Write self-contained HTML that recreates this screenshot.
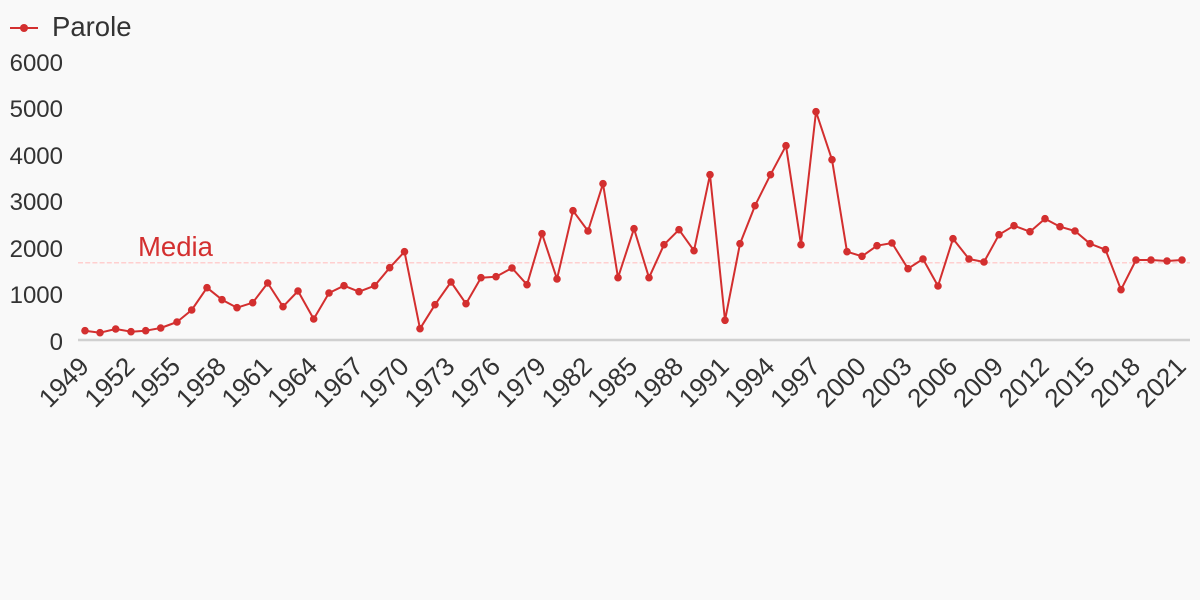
<!DOCTYPE html>
<html><head><meta charset="utf-8"><style>
html,body{margin:0;padding:0;background:#f9f9f9;}
svg{display:block;font-family:"Liberation Sans",sans-serif;}
</style></head><body>
<svg width="1200" height="600" viewBox="0 0 1200 600" xmlns="http://www.w3.org/2000/svg">
<rect width="1200" height="600" fill="#f9f9f9"/>
<!-- legend -->
<line x1="10" y1="28" x2="38" y2="28" stroke="#d32f2f" stroke-width="2"/>
<circle cx="24" cy="28" r="4" fill="#d32f2f"/>
<text x="52" y="36" font-size="27.5" fill="#333">Parole</text>
<!-- y labels -->
<g font-size="24" fill="#333" text-anchor="end">
<text x="63" y="71">6000</text>
<text x="63" y="117">5000</text>
<text x="63" y="164">4000</text>
<text x="63" y="210">3000</text>
<text x="63" y="257">2000</text>
<text x="63" y="303">1000</text>
<text x="63" y="350">0</text>
</g>
<!-- axis -->
<line x1="78" y1="340" x2="1190" y2="340" stroke="#d0d0d0" stroke-width="2.5"/>
<!-- mean -->
<line x1="78" y1="262.7" x2="1190" y2="262.7" stroke="#ffcfcf" stroke-width="1.5" stroke-dasharray="5 2.2"/>
<text x="138" y="256" font-size="27.5" fill="#d32f2f">Media</text>
<!-- series -->
<polyline fill="none" stroke="#d32f2f" stroke-width="2" stroke-linejoin="round" points="85,330.7 100,332.7 115.7,329 131,331.7 145.7,330.7 160.7,328 177,322 191.7,310 207,287.7 222,299.7 237,307.7 252.7,302.7 267.7,283 283,306.7 298,291 313.7,319 329,293 344,285.7 359,291.7 374.7,285.7 389.7,267.7 404.5,251.7 420,328.7 435,304.7 451,282 466,303.7 481,277.7 496,276.7 512,268 527,284.7 542,233.7 557,279 573,210.7 588,231 603,183.7 618,277.7 634,228.7 649,277.7 664,244.7 679,229.7 694,250.7 710,174.7 725,320.3 740,243.7 755,205.7 770.5,174.7 786,145.7 801,244.7 816,111.7 832,159.7 847,251.7 862,256.3 877,245.7 892,243 908,268.7 923,259 938,286 953,238.7 969,259 984,262 999,234.7 1014,225.7 1030,231.7 1045,218.7 1060,226.7 1075,231 1090,243.7 1105.5,249.7 1121,289.7 1136,260 1151,260 1167,261 1182,260"/>
<g fill="#d32f2f">
<circle cx="85" cy="330.7" r="3.8"/><circle cx="100" cy="332.7" r="3.8"/><circle cx="115.7" cy="329" r="3.8"/><circle cx="131" cy="331.7" r="3.8"/><circle cx="145.7" cy="330.7" r="3.8"/><circle cx="160.7" cy="328" r="3.8"/><circle cx="177" cy="322" r="3.8"/><circle cx="191.7" cy="310" r="3.8"/><circle cx="207" cy="287.7" r="3.8"/><circle cx="222" cy="299.7" r="3.8"/><circle cx="237" cy="307.7" r="3.8"/><circle cx="252.7" cy="302.7" r="3.8"/><circle cx="267.7" cy="283" r="3.8"/><circle cx="283" cy="306.7" r="3.8"/><circle cx="298" cy="291" r="3.8"/><circle cx="313.7" cy="319" r="3.8"/><circle cx="329" cy="293" r="3.8"/><circle cx="344" cy="285.7" r="3.8"/><circle cx="359" cy="291.7" r="3.8"/><circle cx="374.7" cy="285.7" r="3.8"/><circle cx="389.7" cy="267.7" r="3.8"/><circle cx="404.5" cy="251.7" r="3.8"/><circle cx="420" cy="328.7" r="3.8"/><circle cx="435" cy="304.7" r="3.8"/><circle cx="451" cy="282" r="3.8"/><circle cx="466" cy="303.7" r="3.8"/><circle cx="481" cy="277.7" r="3.8"/><circle cx="496" cy="276.7" r="3.8"/><circle cx="512" cy="268" r="3.8"/><circle cx="527" cy="284.7" r="3.8"/><circle cx="542" cy="233.7" r="3.8"/><circle cx="557" cy="279" r="3.8"/><circle cx="573" cy="210.7" r="3.8"/><circle cx="588" cy="231" r="3.8"/><circle cx="603" cy="183.7" r="3.8"/><circle cx="618" cy="277.7" r="3.8"/><circle cx="634" cy="228.7" r="3.8"/><circle cx="649" cy="277.7" r="3.8"/><circle cx="664" cy="244.7" r="3.8"/><circle cx="679" cy="229.7" r="3.8"/><circle cx="694" cy="250.7" r="3.8"/><circle cx="710" cy="174.7" r="3.8"/><circle cx="725" cy="320.3" r="3.8"/><circle cx="740" cy="243.7" r="3.8"/><circle cx="755" cy="205.7" r="3.8"/><circle cx="770.5" cy="174.7" r="3.8"/><circle cx="786" cy="145.7" r="3.8"/><circle cx="801" cy="244.7" r="3.8"/><circle cx="816" cy="111.7" r="3.8"/><circle cx="832" cy="159.7" r="3.8"/><circle cx="847" cy="251.7" r="3.8"/><circle cx="862" cy="256.3" r="3.8"/><circle cx="877" cy="245.7" r="3.8"/><circle cx="892" cy="243" r="3.8"/><circle cx="908" cy="268.7" r="3.8"/><circle cx="923" cy="259" r="3.8"/><circle cx="938" cy="286" r="3.8"/><circle cx="953" cy="238.7" r="3.8"/><circle cx="969" cy="259" r="3.8"/><circle cx="984" cy="262" r="3.8"/><circle cx="999" cy="234.7" r="3.8"/><circle cx="1014" cy="225.7" r="3.8"/><circle cx="1030" cy="231.7" r="3.8"/><circle cx="1045" cy="218.7" r="3.8"/><circle cx="1060" cy="226.7" r="3.8"/><circle cx="1075" cy="231" r="3.8"/><circle cx="1090" cy="243.7" r="3.8"/><circle cx="1105.5" cy="249.7" r="3.8"/><circle cx="1121" cy="289.7" r="3.8"/><circle cx="1136" cy="260" r="3.8"/><circle cx="1151" cy="260" r="3.8"/><circle cx="1167" cy="261" r="3.8"/><circle cx="1182" cy="260" r="3.8"/>
</g>
<!-- x labels -->
<g font-size="26" fill="#333" text-anchor="end">
<text transform="translate(90.5,368) rotate(-45)">1949</text>
<text transform="translate(136.2,368) rotate(-45)">1952</text>
<text transform="translate(181.9,368) rotate(-45)">1955</text>
<text transform="translate(227.6,368) rotate(-45)">1958</text>
<text transform="translate(273.3,368) rotate(-45)">1961</text>
<text transform="translate(319,368) rotate(-45)">1964</text>
<text transform="translate(364.8,368) rotate(-45)">1967</text>
<text transform="translate(410.5,368) rotate(-45)">1970</text>
<text transform="translate(456.2,368) rotate(-45)">1973</text>
<text transform="translate(501.9,368) rotate(-45)">1976</text>
<text transform="translate(547.6,368) rotate(-45)">1979</text>
<text transform="translate(593.3,368) rotate(-45)">1982</text>
<text transform="translate(639,368) rotate(-45)">1985</text>
<text transform="translate(684.8,368) rotate(-45)">1988</text>
<text transform="translate(730.5,368) rotate(-45)">1991</text>
<text transform="translate(776.2,368) rotate(-45)">1994</text>
<text transform="translate(821.9,368) rotate(-45)">1997</text>
<text transform="translate(867.6,368) rotate(-45)">2000</text>
<text transform="translate(913.3,368) rotate(-45)">2003</text>
<text transform="translate(959,368) rotate(-45)">2006</text>
<text transform="translate(1004.8,368) rotate(-45)">2009</text>
<text transform="translate(1050.5,368) rotate(-45)">2012</text>
<text transform="translate(1096.2,368) rotate(-45)">2015</text>
<text transform="translate(1141.9,368) rotate(-45)">2018</text>
<text transform="translate(1187.5,368) rotate(-45)">2021</text>
</g>
</svg>
</body></html>
